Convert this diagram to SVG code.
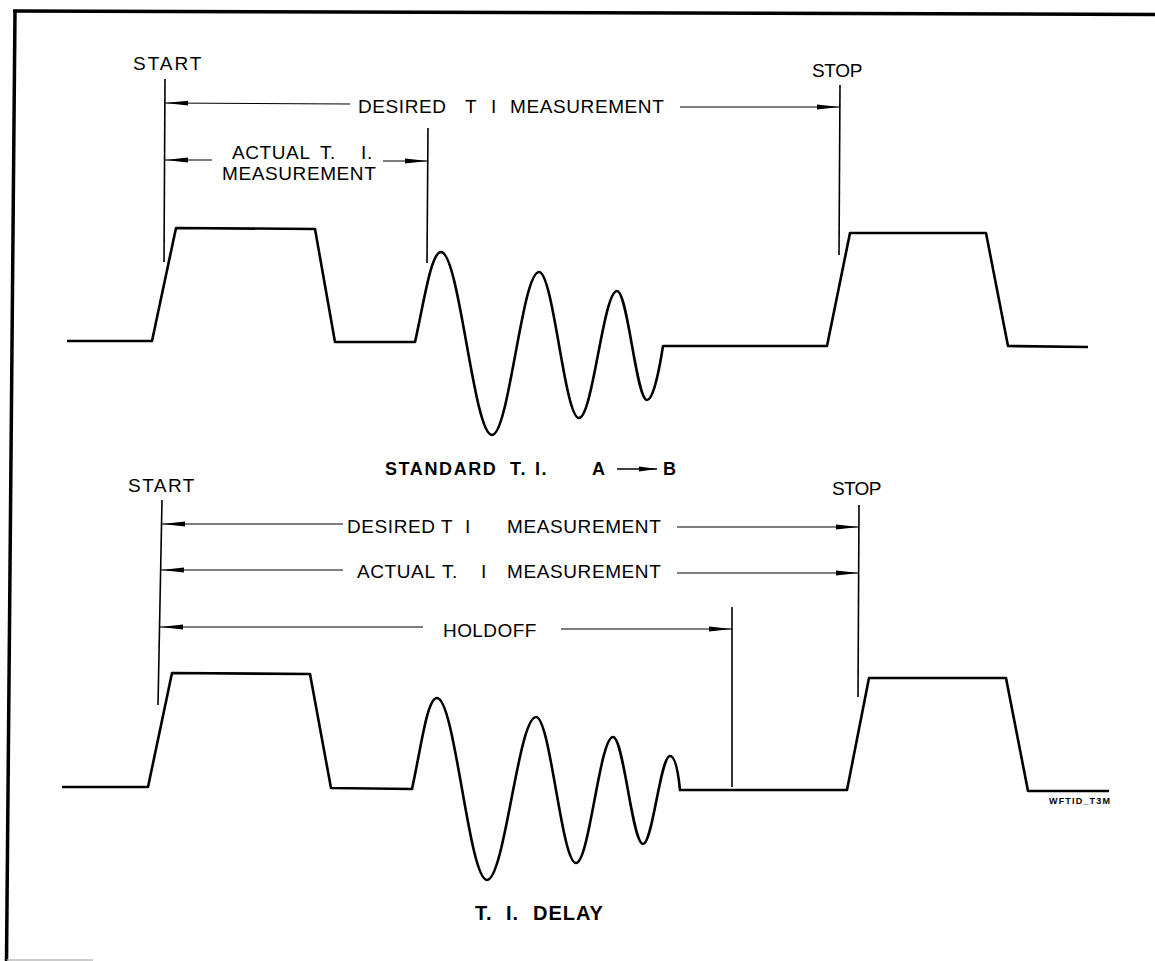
<svg xmlns="http://www.w3.org/2000/svg" width="1155" height="961" viewBox="0 0 1155 961">
<style>
.lbl{font-family:"Liberation Sans",Arial,sans-serif;font-size:19px;fill:#000;letter-spacing:0.6px}
.ttl{font-family:"Liberation Sans",Arial,sans-serif;font-weight:bold;fill:#000}
.wave{fill:none;stroke:#000;stroke-width:2.6;stroke-linejoin:round}
.mark{stroke:#000;stroke-width:1.6;fill:none}
.dim{stroke:#000;stroke-width:1.2;fill:none;marker-end:url(#ah)}
</style>
<defs>
<marker id="ah" markerUnits="userSpaceOnUse" markerWidth="24" markerHeight="8" viewBox="0 0 24 8" refX="23" refY="4" orient="auto">
<path d="M0,1.6 L23,4 L0,6.4 Z" fill="#000"/>
</marker>
<marker id="ahs" markerUnits="userSpaceOnUse" markerWidth="20" markerHeight="8" viewBox="0 0 20 8" refX="18" refY="4" orient="auto">
<path d="M0,1.6 L18,4 L0,6.4 Z" fill="#000"/>
</marker>
</defs>
<rect width="1155" height="961" fill="#fff"/>
<g id="frame">
<line x1="13" y1="11" x2="1155" y2="14.5" stroke="#000" stroke-width="3.5"/>
<line x1="15" y1="10" x2="6.5" y2="961" stroke="#000" stroke-width="3.5"/>
<line x1="7" y1="960" x2="93" y2="960" stroke="#bbb" stroke-width="1.5"/>
</g>

<g id="standard-ti">
<path class="wave" d="M67,341 L152,341 L176,228 L315,229 L335,342 L415,342 C424,302 431,252 441,252 C459.4,252 473.6,435 492,435 C509,435 522,272 539,272 C553.4,272 564.6,418 579,418 C592.7,418 603.3,291 617,291 C627.8,291 636.2,400 647,400 C653,400 659,372 663,346 L827,346 L850,233 L986,233 L1008,346 L1088,347"/>
<line class="mark" x1="165" y1="79" x2="164" y2="262"/>
<line class="mark" x1="428" y1="128" x2="427" y2="263"/>
<line class="mark" x1="840" y1="85" x2="839" y2="255"/>
<text class="lbl" x="133" y="70" textLength="69">START</text>
<text class="lbl" x="812" y="77" textLength="51">STOP</text>
<text class="lbl" y="113"><tspan x="358">DESIRED</tspan> <tspan x="465">T</tspan> <tspan x="491">I</tspan> <tspan x="510">MEASUREMENT</tspan></text>
<text class="lbl" y="159"><tspan x="232">ACTUAL</tspan> <tspan x="320">T.</tspan> <tspan x="361">I.</tspan></text>
<text class="lbl" x="222" y="180">MEASUREMENT</text>
<text class="ttl" y="475" font-size="18" letter-spacing="1.6"><tspan x="385">STANDARD</tspan> <tspan x="510">T.</tspan> <tspan x="535">I.</tspan> <tspan x="592">A</tspan> <tspan x="663">B</tspan></text>
</g>

<g id="ti-delay">
<path class="wave" d="M62,787 L148,787 L172,673 L310,674 L331,788 L412,789 C421,748 427,698 437,698 C455,698 469,880 487,880 C504.6,880 518.4,717 536,717 C550.4,717 561.6,863 576,863 C589.3,863 599.7,737 613,737 C623.8,737 632.2,844 643,844 C652.7,844 660.3,756 670,756 C675,756 678,770 680,790 L847,790 L869,678 L1006,678 L1028,791 L1109,791"/>
<line class="mark" x1="162" y1="500" x2="158" y2="705"/>
<line class="mark" x1="732" y1="607" x2="732" y2="787"/>
<line class="mark" x1="859" y1="505" x2="858" y2="697"/>
<text class="lbl" x="128" y="492" textLength="67">START</text>
<text class="lbl" x="832" y="495" textLength="50">STOP</text>
<text class="lbl" y="533"><tspan x="347">DESIRED</tspan> <tspan x="441">T</tspan> <tspan x="465">I</tspan> <tspan x="507">MEASUREMENT</tspan></text>
<text class="lbl" y="578"><tspan x="357">ACTUAL</tspan> <tspan x="442">T.</tspan> <tspan x="481">I</tspan> <tspan x="507">MEASUREMENT</tspan></text>
<text class="lbl" x="443" y="637" textLength="94">HOLDOFF</text>
<text class="ttl" y="920" font-size="20" letter-spacing="1"><tspan x="475">T.</tspan> <tspan x="506">I.</tspan> <tspan x="533">DELAY</tspan></text>
<text class="ttl" x="1049" y="804" font-size="9" textLength="61">WFTID_T3M</text>
</g>

<g id="connectors">
<line class="dim" x1="350" y1="104" x2="165" y2="103"/>
<line class="dim" x1="680" y1="107" x2="840" y2="107"/>
<line class="dim" x1="212" y1="160" x2="165" y2="160"/>
<line class="dim" x1="383" y1="161" x2="428" y2="161"/>
<line class="dim" x1="343" y1="524" x2="162" y2="524"/>
<line class="dim" x1="677" y1="527" x2="859" y2="527"/>
<line class="dim" x1="343" y1="570" x2="161" y2="570"/>
<line class="dim" x1="677" y1="573" x2="859" y2="573"/>
<line class="dim" x1="423" y1="627" x2="160" y2="627"/>
<line class="dim" x1="561" y1="629" x2="732" y2="629"/>
<line x1="617" y1="469" x2="657" y2="469" stroke="#000" stroke-width="1.4" marker-end="url(#ahs)"/>
</g>
</svg>
